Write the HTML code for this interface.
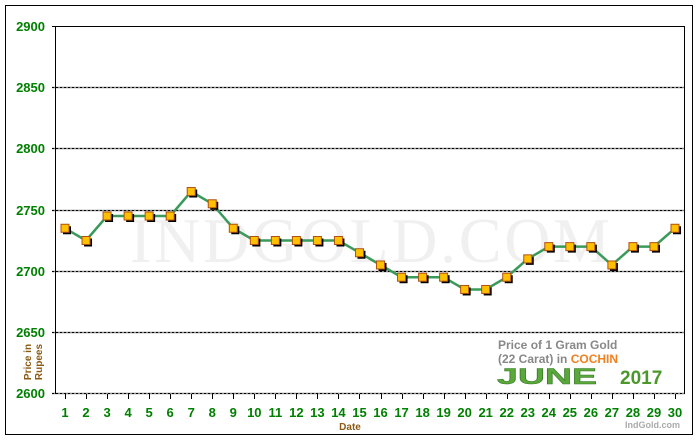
<!DOCTYPE html>
<html><head><meta charset="utf-8"><style>body{margin:0;background:#fff}svg{display:block}</style></head><body>
<svg width="700" height="440" xmlns="http://www.w3.org/2000/svg" font-family="Liberation Sans, sans-serif">
<rect x="5.5" y="5.5" width="687" height="429" fill="#fff" stroke="#000" stroke-width="1"/>
<text x="370" y="262" text-anchor="middle" font-family="Liberation Serif, serif" font-size="64" fill="#f0f0f0" textLength="480" lengthAdjust="spacing">INDGOLD.COM</text>
<g stroke="#888" stroke-width="1.5">
<line x1="52" y1="87.5" x2="685" y2="87.5"/><line x1="52" y1="148.5" x2="685" y2="148.5"/><line x1="52" y1="210.5" x2="685" y2="210.5"/><line x1="52" y1="271.5" x2="685" y2="271.5"/><line x1="52" y1="332.5" x2="685" y2="332.5"/><line x1="52" y1="393.5" x2="685" y2="393.5"/>
</g>
<g stroke="#000" stroke-width="1" stroke-dasharray="2,2">
<line x1="52" y1="87.5" x2="685" y2="87.5"/><line x1="52" y1="148.5" x2="685" y2="148.5"/><line x1="52" y1="210.5" x2="685" y2="210.5"/><line x1="52" y1="271.5" x2="685" y2="271.5"/><line x1="52" y1="332.5" x2="685" y2="332.5"/><line x1="52" y1="393.5" x2="685" y2="393.5"/>
</g>
<line x1="52" y1="26.5" x2="685" y2="26.5" stroke="#000"/>
<line x1="55.5" y1="26" x2="55.5" y2="394" stroke="#000"/>
<line x1="684.5" y1="26" x2="684.5" y2="394" stroke="#000"/>
<g id="ticks" stroke="#000"></g>
<g font-size="13" font-weight="bold" fill="#008000" text-anchor="end">
<text x="45" y="31">2900</text><text x="45" y="92">2850</text><text x="45" y="153">2800</text><text x="45" y="215">2750</text><text x="45" y="276">2700</text><text x="45" y="337">2650</text><text x="45" y="398">2600</text>
</g>
<text transform="translate(31,362) rotate(-90)" text-anchor="middle" font-size="10" font-weight="bold" fill="#8b5a14"><tspan x="0" y="0">Price in</tspan><tspan x="0" y="11">Rupees</tspan></text>
<text x="350" y="430" text-anchor="middle" font-size="10" font-weight="bold" fill="#8b5a14">Date</text>
<text x="498" y="349" font-size="12" font-weight="bold" fill="#888">Price of 1 Gram Gold</text>
<text x="498" y="363" font-size="12" font-weight="bold" fill="#888">(22 Carat) in <tspan fill="#f08020">COCHIN</tspan></text>
<text x="497" y="384" font-size="22" font-weight="bold" fill="#5aa83a" textLength="100" lengthAdjust="spacingAndGlyphs" stroke="#3a7a2a" stroke-width="0.5">JUNE</text>
<text x="620" y="384" font-size="19" font-weight="bold" fill="#4a982a">2017</text>
<text x="680" y="428" text-anchor="end" font-size="9" font-weight="bold" fill="#aaa">IndGold.com</text>
<g id="xl" font-size="13" font-weight="bold" fill="#008000" text-anchor="middle"></g>
<polyline id="ln" fill="none" stroke="#3a9a5a" stroke-width="2.5"/>
<g id="mk"></g>
<script>
var d=[2735,2725,2745,2745,2745,2745,2765,2755,2735,2725,2725,2725,2725,2725,2715,2705,2695,2695,2695,2685,2685,2695,2710,2720,2720,2720,2705,2720,2720,2735];
var ns="http://www.w3.org/2000/svg",pts=[],t=document.getElementById('ticks'),xl=document.getElementById('xl'),mk=document.getElementById('mk');
function e(n,a,p){var el=document.createElementNS(ns,n);for(var k in a)el.setAttribute(k,a[k]);p.appendChild(el);return el;}
for(var i=0;i<30;i++){var x=65+i*610/29,y=393.5-(d[i]-2600)*61.2/50;pts.push(x.toFixed(1)+','+y.toFixed(1));
var tx=Math.round(x)+0.5;e('line',{x1:tx,y1:394,x2:tx,y2:399},t);
var tt=e('text',{x:x,y:417},xl);tt.textContent=i+1;
e('rect',{x:x-2,y:y-2,width:8,height:8,fill:'#000'},mk);
e('rect',{x:x-4,y:y-4,width:8,height:8,fill:'#ffc000',stroke:'#b05010','stroke-width':1},mk);}
document.getElementById('ln').setAttribute('points',pts.join(' '));
</script>
</svg>
</body></html>
